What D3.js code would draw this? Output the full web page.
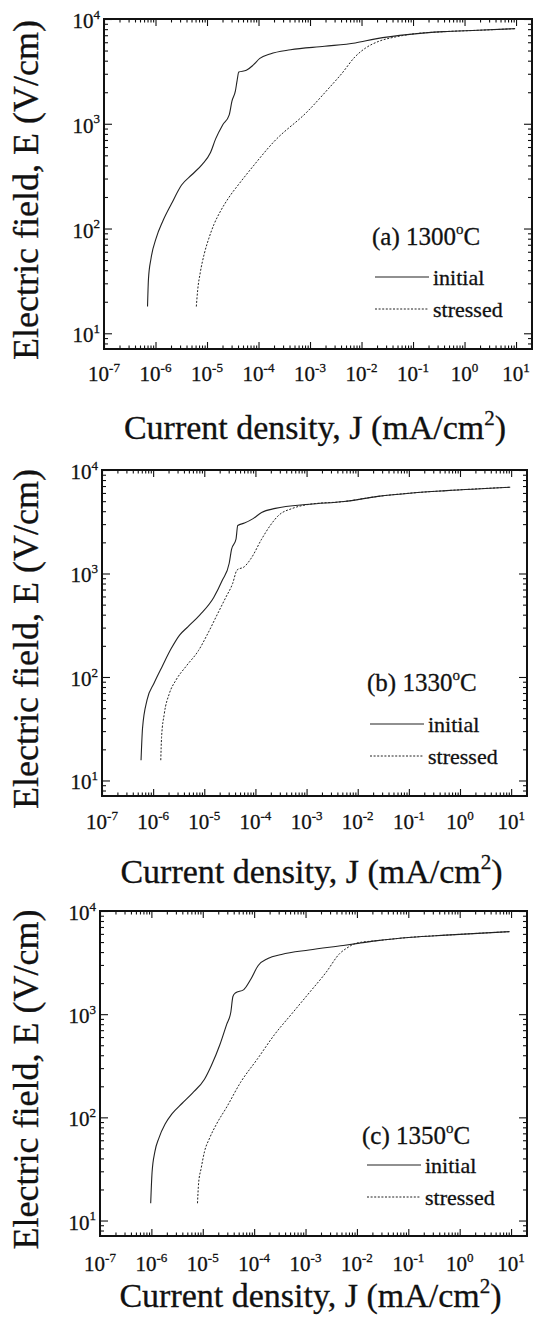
<!DOCTYPE html>
<html>
<head>
<meta charset="utf-8">
<script src="https://cdn.jsdelivr.net/npm/d3@7"></script>
<style>
  body { margin: 0; background: #fff; }
  svg text { font-family: "Liberation Serif", "Times New Roman", serif; fill: #111; stroke: #111; stroke-width: 0.3; }
</style>
</head>
<body>
<div id="chart"></div>
<script>
// tick labels (powers of ten)
var xTickExps = [-7, -6, -5, -4, -3, -2, -1, 0, 1];
var yTickExps = [1, 2, 3, 4];
var panelNames = ["(a) 1300", "(b) 1330", "(c) 1350"];
var seriesNames = ["initial", "stressed"];

// (a) 1300 C
var jInitialA = [7.0e-7, 7.3e-7, 8.2e-7, 1.03e-6, 1.39e-6, 2.04e-6, 3.21e-6, 5.07e-6, 8.0e-6, 1.17e-5, 1.47e-5, 2.0e-5, 2.7e-5, 3.05e-5, 3.56e-5, 3.84e-5, 4.14e-5, 5.8e-5, 7.85e-5, 1.06e-4, 1.68e-4, 4.19e-4, 1.92e-3, 7.55e-3, 1.88e-2, 8.6e-2, 0.394, 1.81, 9.6];
var eInitialA = [18, 33, 52, 81, 118, 172, 260, 326, 408, 531, 717, 970, 1217, 1644, 2061, 2583, 3114, 3236, 3625, 4210, 4644, 5085, 5487, 5908, 6460, 7130, 7570, 7800, 8090];
var jStressedA = [6.2e-6, 6.6e-6, 7.4e-6, 8.9e-6, 1.09e-5, 1.36e-5, 1.85e-5, 2.7e-5, 4.27e-5, 7.85e-5, 1.95e-4, 8.95e-4, 2.23e-3, 4.1e-3, 7.55e-3, 1.19e-2, 2.19e-2, 4.69e-2, 9.0e-2, 0.394, 1.81, 9.6];
var eStressedA = [18, 26, 38, 58, 81, 109, 148, 200, 270, 393, 667, 1312, 2138, 3000, 4375, 5272, 6137, 6760, 7150, 7570, 7800, 8090];

// (b) 1330 C
var jInitialB = [5.8e-7, 6.2e-7, 7.6e-7, 1.04e-6, 1.52e-6, 2.24e-6, 3.29e-6, 4.83e-6, 8.3e-6, 1.53e-5, 2.25e-5, 3.07e-5, 3.41e-5, 4.17e-5, 4.51e-5, 6.1e-5, 9.0e-5, 1.32e-4, 2.45e-4, 1.15e-3, 5.4e-3, 2.48e-2, 0.116, 0.54, 9.6];
var eInitialB = [15.7, 32, 60, 87, 128, 187, 254, 307, 401, 587, 859, 1256, 1706, 2145, 2911, 3070, 3390, 3884, 4256, 4667, 4958, 5556, 5998, 6320, 6820];
var jStressedB = [1.41e-6, 1.46e-6, 1.65e-6, 2.07e-6, 2.82e-6, 4.47e-6, 7.7e-6, 1.13e-5, 1.79e-5, 2.63e-5, 3.57e-5, 4.37e-5, 6.1e-5, 8.3e-5, 1.32e-4, 1.95e-4, 2.86e-4, 5.3e-4, 1.15e-3, 5.4e-3, 2.48e-2, 0.116, 0.54, 9.6];
var eStressedB = [15.7, 26, 44, 69, 94, 128, 180, 254, 401, 587, 796, 1080, 1165, 1409, 2145, 2911, 3656, 4256, 4667, 4958, 5556, 5998, 6320, 6820];

// (c) 1350 C
var jInitialC = [9.7e-7, 1.03e-6, 1.17e-6, 1.4e-6, 1.85e-6, 2.51e-6, 3.98e-6, 6.3e-6, 1.08e-5, 1.47e-5, 2.15e-5, 2.93e-5, 3.52e-5, 3.86e-5, 4.3e-5, 6.3e-5, 8.6e-5, 1.2e-4, 1.85e-4, 3.41e-4, 1.17e-3, 5.4e-3, 1.17e-2, 2.51e-2, 0.117, 0.54, 9.3];
var eInitialC = [14.7, 29, 46.5, 63, 86, 108, 137, 172, 234, 318, 505, 802, 1050, 1483, 1603, 1731, 2180, 2964, 3459, 3793, 4188, 4634, 4890, 5163, 5572, 5835, 6310];
var jStressedC = [7.9e-6, 8.3e-6, 9.3e-6, 1.08e-5, 1.36e-5, 1.85e-5, 2.93e-5, 5.4e-5, 1.17e-4, 2.51e-4, 5.4e-4, 1.17e-3, 2.51e-3, 4.65e-3, 6.3e-3, 1.0e-2, 2.51e-2, 0.117, 0.54, 9.3];
var eStressedC = [14.7, 23, 32, 46.5, 63, 86, 126, 217, 371, 637, 1009, 1603, 2542, 3881, 4355, 4890, 5163, 5572, 5835, 6310];

var svgWidth = 539, svgHeight = 1319;

var svg = d3.select("#chart")
  .append("svg")
  .attr("width", svgWidth)
  .attr("height", svgHeight);

// layout of the three stacked panels
var panels = [
  { name: panelNames[0], left: 104, right: 532, top: 19, bottom: 349,
    jI: jInitialA, eI: eInitialA, jS: jStressedA, eS: eStressedA,
    xLabelY: 381, xTitleY: 439, label: [372, 245], leg: [375, 277] },
  { name: panelNames[1], left: 102, right: 527, top: 470, bottom: 796,
    jI: jInitialB, eI: eInitialB, jS: jStressedB, eS: eStressedB,
    xLabelY: 829, xTitleY: 883, label: [367, 691], leg: [370, 724] },
  { name: panelNames[2], left: 100, right: 527, top: 911, bottom: 1236,
    jI: jInitialC, eI: eInitialC, jS: jStressedC, eS: eStressedC,
    xLabelY: 1271, xTitleY: 1307, label: [362, 1144], leg: [367, 1165] }
];

function powLabel(sel, exp, size) {
  sel.append("tspan").text("10").attr("font-size", size);
  sel.append("tspan").text(exp).attr("font-size", size * 0.62).attr("dy", -size * 0.45);
}

function drawPanel(p) {
  var g = svg.append("g");
  var w = p.right - p.left, h = p.bottom - p.top;

  var x = d3.scaleLog().domain([1e-7, Math.pow(10, 1.31)]).range([p.left, p.right]);
  var y = d3.scaleLog().domain([Math.pow(10, 0.85), 1e4]).range([p.bottom, p.top]);

  var minorX = [], minorY = [];
  d3.range(-7, 2).forEach(function(e) {
    for (var m = 2; m <= 9; m++) minorX.push(m * Math.pow(10, e));
  });
  d3.range(0, 4).forEach(function(e) {
    for (var m = 2; m <= 9; m++) minorY.push(m * Math.pow(10, e));
  });
  minorX = minorX.filter(v => v > 1e-7 && v < x.domain()[1]);
  minorY = minorY.filter(v => v > y.domain()[0] && v < 1e4);
  var majorX = xTickExps.map(e => Math.pow(10, e));
  var majorY = yTickExps.map(e => Math.pow(10, e));

  // inward ticks on all four sides
  function tickGroup(axis, tx, ty) {
    g.append("g").attr("transform", `translate(${tx},${ty})`).call(axis)
      .call(s => s.select(".domain").remove())
      .selectAll("line").attr("stroke", "#111").attr("stroke-width", 1.1);
  }
  tickGroup(d3.axisBottom(x).tickValues(minorX).tickSize(-3.5).tickFormat(""), 0, p.bottom);
  tickGroup(d3.axisBottom(x).tickValues(majorX).tickSize(-7).tickFormat(""), 0, p.bottom);
  tickGroup(d3.axisTop(x).tickValues(minorX).tickSize(-3.5).tickFormat(""), 0, p.top);
  tickGroup(d3.axisTop(x).tickValues(majorX).tickSize(-7).tickFormat(""), 0, p.top);
  tickGroup(d3.axisLeft(y).tickValues(minorY).tickSize(-4).tickFormat(""), p.left, 0);
  tickGroup(d3.axisLeft(y).tickValues(majorY).tickSize(-8).tickFormat(""), p.left, 0);
  tickGroup(d3.axisRight(y).tickValues(minorY).tickSize(-4).tickFormat(""), p.right, 0);
  tickGroup(d3.axisRight(y).tickValues(majorY).tickSize(-8).tickFormat(""), p.right, 0);

  // frame
  g.append("rect")
    .attr("x", p.left).attr("y", p.top)
    .attr("width", w).attr("height", h)
    .attr("fill", "none").attr("stroke", "#111").attr("stroke-width", 2);

  // x tick labels
  xTickExps.forEach(function(e) {
    g.append("text")
      .attr("x", x(Math.pow(10, e)))
      .attr("y", p.xLabelY)
      .attr("text-anchor", "middle")
      .call(powLabel, e, 21);
  });
  // y tick labels
  yTickExps.forEach(function(e) {
    g.append("text")
      .attr("x", p.left - 4)
      .attr("y", y(Math.pow(10, e)) + 9)
      .attr("text-anchor", "end")
      .call(powLabel, e, 21);
  });

  // curves
  var line = d3.line()
    .x(d => x(d[0]))
    .y(d => y(d[1]))
    .curve(d3.curveMonotoneX);
  var initial = d3.zip(p.jI, p.eI);
  var stressed = d3.zip(p.jS, p.eS);

  g.append("path").datum(stressed)
    .attr("d", line).attr("fill", "none")
    .attr("stroke", "#222").attr("stroke-width", 1)
    .attr("stroke-dasharray", "2,1.6");
  g.append("path").datum(initial)
    .attr("d", line).attr("fill", "none")
    .attr("stroke", "#222").attr("stroke-width", 1.1);

  // panel label
  var lab = g.append("text")
    .attr("x", p.label[0]).attr("y", p.label[1])
    .attr("font-size", 25);
  lab.append("tspan").text(p.name);
  lab.append("tspan").text("o").attr("font-size", 15).attr("dy", -11);
  lab.append("tspan").text("C").attr("dy", 11);

  // legend
  var lx = p.leg[0], ly = p.leg[1];
  g.append("line").attr("x1", lx).attr("x2", lx + 54).attr("y1", ly).attr("y2", ly)
    .attr("stroke", "#222").attr("stroke-width", 1.1);
  g.append("line").attr("x1", lx).attr("x2", lx + 54).attr("y1", ly + 32).attr("y2", ly + 32)
    .attr("stroke", "#222").attr("stroke-width", 1).attr("stroke-dasharray", "2,1.6");
  g.append("text").attr("x", lx + 58).attr("y", ly + 8).attr("font-size", 22).text(seriesNames[0]);
  g.append("text").attr("x", lx + 58).attr("y", ly + 40).attr("font-size", 22).text(seriesNames[1]);

  // axis titles
  g.append("text")
    .attr("transform", `translate(38, ${(p.top + p.bottom) / 2 + 6}) rotate(-90)`)
    .attr("text-anchor", "middle")
    .attr("font-size", 36)
    .text("Electric field, E (V/cm)");

  var xt = g.append("text")
    .attr("x", (p.left + p.right) / 2 - 3)
    .attr("y", p.xTitleY)
    .attr("text-anchor", "middle")
    .attr("font-size", 34);
  xt.append("tspan").text("Current density, J (mA/cm");
  xt.append("tspan").text("2").attr("font-size", 21).attr("dy", -14);
  xt.append("tspan").text(")").attr("dy", 14);
}

panels.forEach(drawPanel);
</script>
</body>
</html>
